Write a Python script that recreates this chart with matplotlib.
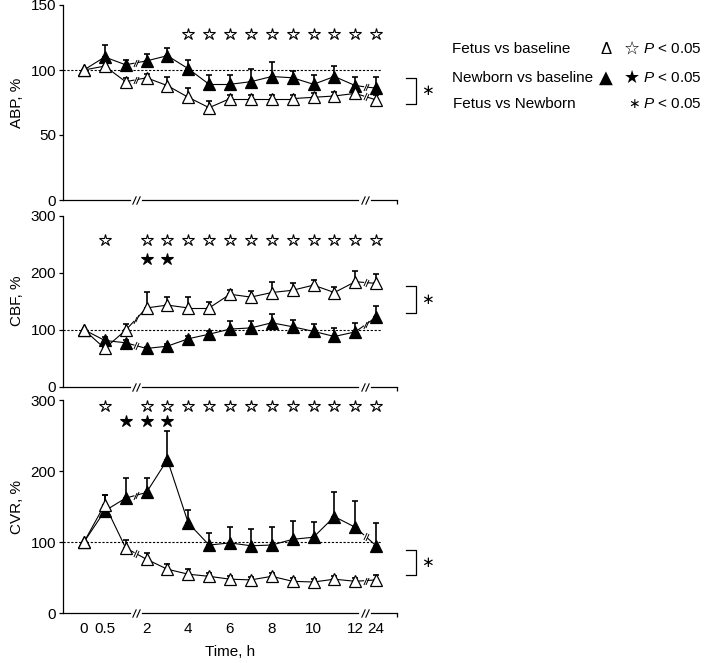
import matplotlib
matplotlib.use('Agg')
import matplotlib.pyplot as plt
import matplotlib.transforms as mtrans
import numpy as np

plt.rcParams['font.family'] = ['Liberation Sans', 'DejaVu Sans']
plt.rcParams['mathtext.fontset'] = 'custom'
plt.rcParams['mathtext.it'] = 'Liberation Sans:italic'
plt.rcParams['mathtext.rm'] = 'Liberation Sans'

# time points (h), drawn at equal spacing with breaks after 1 h and 12 h
hours = ['0', '0.5', '1', '2', '3', '4', '5', '6', '7', '8', '9', '10', '11', '12', '24']
tick_labels = ['0', '0.5', '2', '4', '6', '8', '10', '12', '24']
breaks_after = ['1', '12']

abp_fetus = [100, 103, 91, 94, 88, 79, 71, 78, 78, 78, 78, 79, 80, 82, 77]
abp_fetus_err = [0, 3, 3, 3, 7, 7, 5, 3, 3, 3, 3, 3, 3, 3, 4]
abp_newborn = [100, 110, 104, 107, 111, 101, 89, 89, 91, 95, 94, 89, 95, 88, 86]
abp_newborn_err = [0, 9, 4, 5, 6, 7, 7, 7, 10, 11, 5, 7, 8, 7, 9]

cbf_fetus = [100, 67, 99, 138, 143, 138, 138, 162, 157, 165, 169, 178, 165, 184, 181]
cbf_fetus_err = [0, 0, 10, 28, 14, 19, 11, 8, 10, 18, 12, 9, 9, 19, 17]
cbf_newborn = [100, 81, 77, 67, 71, 84, 92, 101, 103, 112, 105, 97, 88, 96, 122]
cbf_newborn_err = [0, 6, 5, 3, 4, 5, 5, 14, 13, 16, 12, 12, 15, 16, 20]

cvr_fetus = [100, 153, 92, 76, 62, 55, 52, 48, 47, 52, 45, 44, 48, 45, 47]
cvr_fetus_err = [0, 13, 11, 9, 8, 7, 4, 4, 4, 4, 4, 4, 4, 4, 7]
cvr_newborn = [100, 144, 162, 170, 216, 127, 96, 99, 95, 96, 104, 107, 136, 121, 95]
cvr_newborn_err = [0, 22, 28, 20, 40, 18, 17, 22, 23, 25, 26, 21, 35, 37, 32]

# significance markers: time points with fetus (open) / newborn (filled) P < 0.05
abp_fetus_sig = ['4', '5', '6', '7', '8', '9', '10', '11', '12', '24']
abp_newborn_sig = []
cbf_fetus_sig = ['0.5', '2', '3', '4', '5', '6', '7', '8', '9', '10', '11', '12', '24']
cbf_newborn_sig = ['2', '3']
cvr_fetus_sig = ['0.5', '2', '3', '4', '5', '6', '7', '8', '9', '10', '11', '12', '24']
cvr_newborn_sig = ['1', '2', '3']

pos = np.arange(len(hours))
brk = [hours.index(h) for h in breaks_after]
slash = [(-0.45, -1), (0.45, 1)]
FS = 11


def connect(ax, y, z):
    for i in range(len(y) - 1):
        x0, x1, y0, y1 = pos[i], pos[i + 1], y[i], y[i + 1]
        if i in brk:
            for a, b in [(0, 0.4), (0.6, 1)]:
                ax.plot([x0 + (x1 - x0) * a, x0 + (x1 - x0) * b],
                        [y0 + (y1 - y0) * a, y0 + (y1 - y0) * b], color='k', lw=0.8, zorder=z)
            ax.plot([x0 + (x1 - x0) * t for t in (0.45, 0.55)],
                    [y0 + (y1 - y0) * t for t in (0.45, 0.55)],
                    ls='none', marker=slash, ms=5, mec='k', mew=0.7, zorder=z)
        else:
            ax.plot([x0, x1], [y0, y1], color='k', lw=0.8, zorder=z)


def series(ax, y, err, face, z):
    connect(ax, y, z)
    ax.errorbar(pos, y, yerr=[np.zeros(len(err)), err], fmt='none', ecolor='k',
                elinewidth=1.2, capsize=2.2, capthick=1.2, zorder=z)
    ax.plot(pos, y, ls='none', marker='^', ms=8, mfc=face, mec='k', mew=0.9, zorder=z + 0.5)


def axis_break(ax, x):
    tr = mtrans.blended_transform_factory(ax.transData, ax.transAxes)
    ax.plot([x - 0.2, x + 0.2], [0, 0], color='white', lw=2, transform=tr, clip_on=False, zorder=6)
    ax.plot([x - 0.1, x + 0.1], [0, 0], ls='none', marker=slash, ms=6, mec='k', mew=0.8,
            transform=tr, clip_on=False, zorder=7)


def stars(ax, sig, y, face):
    xs = [hours.index(h) for h in sig]
    ax.plot(xs, [y] * len(xs), ls='none', marker='*', ms=9, mfc=face, mec='k', mew=0.8,
            clip_on=False)


def bracket(ax, lo, hi):
    ax.plot([15.43, 15.9, 15.9, 15.43], [hi, hi, lo, lo], color='k', lw=0.9, clip_on=False)
    ax.text(16.45, (lo + hi) / 2, '\u2217', ha='center', va='center', fontsize=11,
            family=['DejaVu Sans'])


W, H = 709, 663
fig = plt.figure(figsize=(W / 100, H / 100), dpi=100)
left, right = 63 / W, 397 / W
panels = [
    ('ABP, %', abp_fetus, abp_fetus_err, abp_newborn, abp_newborn_err, 5, 200, 150, [0, 50, 100, 150],
     abp_fetus_sig, 128, abp_newborn_sig, 0, (74, 94)),
    ('CBF, %', cbf_fetus, cbf_fetus_err, cbf_newborn, cbf_newborn_err, 215.5, 386.7, 300, [0, 100, 200, 300],
     cbf_fetus_sig, 257, cbf_newborn_sig, 224, (130, 177)),
    ('CVR, %', cvr_fetus, cvr_fetus_err, cvr_newborn, cvr_newborn_err, 400, 613.3, 300, [0, 100, 200, 300],
     cvr_fetus_sig, 291, cvr_newborn_sig, 270, (54, 89)),
]

for k, (lab, yf, ef, yn, en, top, bot, ymax, yt, fsig, fy, nsig, ny, br) in enumerate(panels):
    ax = fig.add_axes([left, 1 - bot / H, right - left, (bot - top) / H])
    for s in ['top', 'right']:
        ax.spines[s].set_visible(False)
    for s in ['left', 'bottom']:
        ax.spines[s].set_linewidth(0.9)
    ax.set_xlim(-1, 15)
    ax.set_ylim(0, ymax)
    ax.set_yticks(yt)
    ax.tick_params(axis='y', direction='out', length=3, width=0.9, labelsize=FS, pad=2)
    ax.set_xticks([hours.index(t) for t in tick_labels])
    ax.set_xticklabels(tick_labels if k == 2 else [])
    ax.tick_params(axis='x', which='major', length=0, labelsize=FS, pad=6)
    ax.set_xticks(np.arange(1, 16, 2), minor=True)
    ax.tick_params(axis='x', which='minor', direction='out', length=3, width=0.9)
    ax.set_ylabel(lab, fontsize=FS, labelpad=5)

    ax.plot([-1, 14.25], [100, 100], color='k', ls=(0, (2, 1.5)), lw=0.8, zorder=1)
    series(ax, yn, en, 'k', 2)
    series(ax, yf, ef, 'white', 4)
    for x in [2.5, 13.45]:
        axis_break(ax, x)
    stars(ax, fsig, fy, 'white')
    stars(ax, nsig, ny, 'k')
    bracket(ax, *br)
    if k == 2:
        ax.set_xlabel('Time, h', fontsize=FS, labelpad=7)

# key
rows = [1 - 49 / H, 1 - 78 / H, 1 - 104 / H]
fig.text(452 / W, rows[0], 'Fetus vs baseline', fontsize=FS, va='center')
fig.text(452 / W, rows[1], 'Newborn vs baseline', fontsize=FS, va='center')
fig.text(453 / W, rows[2], 'Fetus vs Newborn', fontsize=FS, va='center')
fig.text(606 / W, rows[0], '\u0394', fontsize=12, va='center', ha='center')
fig.text(606 / W, rows[1], '\u25b2', fontsize=13, va='center', ha='center', family=['DejaVu Sans'])
fig.text(632 / W, rows[0], '\u2606', fontsize=13, va='center', ha='center', family=['DejaVu Sans'])
fig.text(632 / W, rows[1], '\u2605', fontsize=13, va='center', ha='center', family=['DejaVu Sans'])
fig.text(634 / W, rows[2], '\u2217', fontsize=10, va='center', ha='center', family=['DejaVu Sans'])
for r in rows:
    fig.text(643 / W, r, r'$\mathit{P}$ < 0.05', fontsize=FS, va='center')

fig.savefig('out.png', dpi=100)
